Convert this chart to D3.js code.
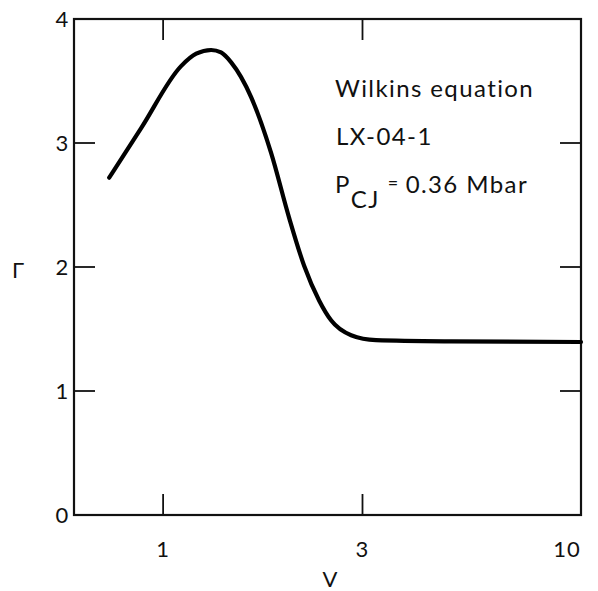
<!DOCTYPE html>
<html><head><meta charset="utf-8">
<script src="https://cdn.jsdelivr.net/npm/d3@7/dist/d3.min.js"></script>
<style>body{margin:0;background:#fff}svg{display:block}text{font-family:Lato,"DejaVu Sans",sans-serif;fill:#111}</style>
</head><body><svg id="c" width="598" height="591"></svg>
<script>
const vValues = [0.743, 0.886, 1.104, 1.2, 1.303, 1.376, 1.455, 1.624, 1.813, 2.001, 2.175, 2.362, 2.523, 2.818, 3.233, 4.887, 10];
const gammaValues = [2.72, 3.12, 3.62, 3.72, 3.75, 3.73, 3.65, 3.37, 2.92, 2.40, 2.01, 1.73, 1.57, 1.45, 1.41, 1.40, 1.395];
const xTicks = [1, 3, 10];
const yTicks = [0, 1, 2, 3, 4];
const annotations = ["Wilkins equation", "LX-04-1"];

const svg = d3.select("#c");
const L = 74, R = 581, T = 19, B = 515;
const x = d3.scaleLog().domain([0.612, 10]).range([L, R]);
const y = d3.scaleLinear().domain([0, 4]).range([B, T]);

svg.append("rect").attr("x", L).attr("y", T).attr("width", R - L).attr("height", B - T)
  .attr("fill", "none").attr("stroke", "#111").attr("stroke-width", 2.2);

const tl = 21;
[1, 3].forEach(v => {
  svg.append("line").attr("x1", x(v)).attr("x2", x(v)).attr("y1", B).attr("y2", B - tl).attr("stroke", "#111").attr("stroke-width", 1.8);
  svg.append("line").attr("x1", x(v)).attr("x2", x(v)).attr("y1", T).attr("y2", T + tl).attr("stroke", "#111").attr("stroke-width", 1.8);
});
[1, 2, 3].forEach(v => {
  svg.append("line").attr("x1", L).attr("x2", L + tl).attr("y1", y(v)).attr("y2", y(v)).attr("stroke", "#111").attr("stroke-width", 1.8);
  svg.append("line").attr("x1", R).attr("x2", R - tl).attr("y1", y(v)).attr("y2", y(v)).attr("stroke", "#111").attr("stroke-width", 1.8);
});

xTicks.forEach(v => {
  svg.append("text").attr("x", v === 10 ? x(v) - 14 : x(v)).attr("y", 557).attr("text-anchor", "middle")
    .attr("font-size", 22).attr("letter-spacing", 1).text(v);
});
yTicks.forEach(v => {
  svg.append("text").attr("x", 62).attr("y", y(v) + 8).attr("text-anchor", "middle")
    .attr("font-size", 22).text(v);
});

svg.append("text").attr("x", 330).attr("y", 587).attr("text-anchor", "middle").attr("font-size", 22).text("V");
svg.append("text").attr("x", 18).attr("y", 278).attr("text-anchor", "middle").attr("font-size", 22).text("Γ");

const line = d3.line().x((d, i) => x(vValues[i])).y(d => y(d)).curve(d3.curveMonotoneX);
svg.append("path").datum(gammaValues).attr("d", line).attr("fill", "none")
  .attr("stroke", "#000").attr("stroke-width", 4.2).attr("stroke-linecap", "round");

const ann = svg.append("g").attr("font-size", 24).attr("letter-spacing", 1.4);
ann.append("text").attr("x", 335).attr("y", 97).text(annotations[0]);
ann.append("text").attr("x", 336).attr("y", 145).text(annotations[1]);
const p = ann.append("text").attr("x", 335).attr("y", 193);
p.append("tspan").text("P");
p.append("tspan").attr("dy", 15).text("CJ");
p.append("tspan").attr("dy", -15).attr("dx", 8).attr("font-size", 18).attr("baseline-shift", "4").text("=");
p.append("tspan").attr("dx", 6).text("0.36 Mbar");
</script></body></html>
